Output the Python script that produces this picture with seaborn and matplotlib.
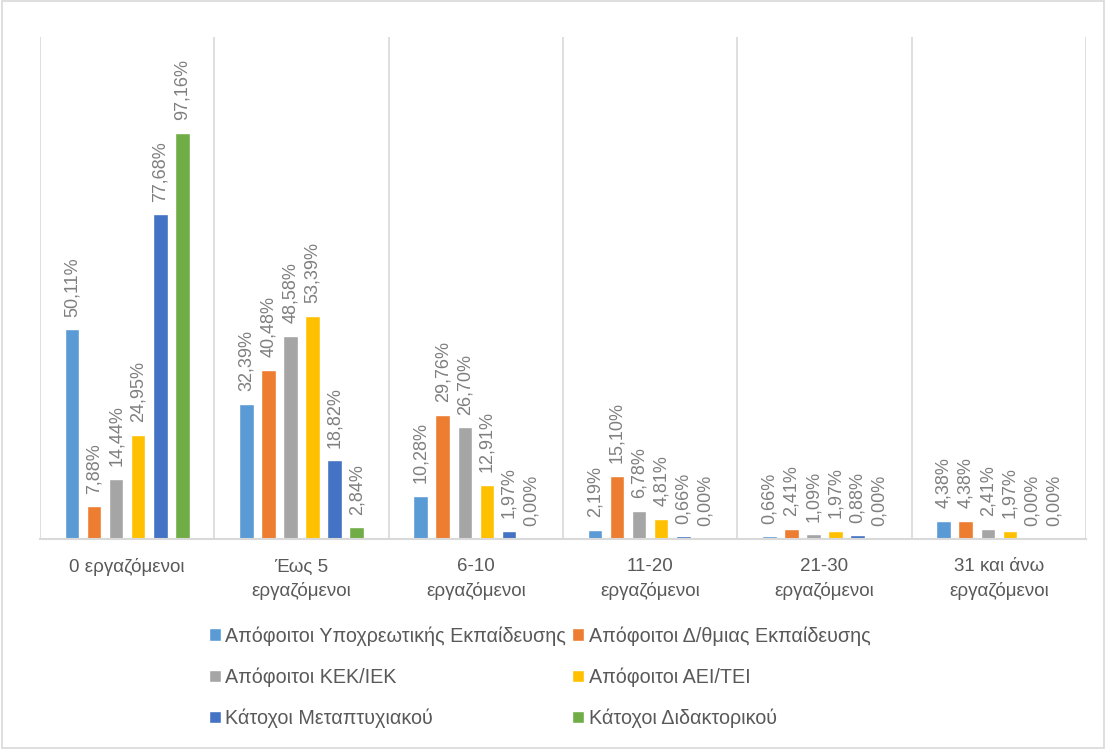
import matplotlib
matplotlib.use("Agg")
import matplotlib.pyplot as plt
import seaborn as sns
import pandas as pd
from matplotlib.patches import Rectangle

categories = ["0 εργαζόμενοι", "Έως 5\nεργαζόμενοι", "6-10\nεργαζόμενοι",
              "11-20\nεργαζόμενοι", "21-30\nεργαζόμενοι", "31 και άνω\nεργαζόμενοι"]
series = ["Απόφοιτοι Υποχρεωτικής Εκπαίδευσης", "Απόφοιτοι Δ/θμιας Εκπαίδευσης",
          "Απόφοιτοι ΚΕΚ/ΙΕΚ", "Απόφοιτοι ΑΕΙ/ΤΕΙ",
          "Κάτοχοι Μεταπτυχιακού", "Κάτοχοι Διδακτορικού"]
ypoxreotiki = [50.11, 32.39, 10.28, 2.19, 0.66, 4.38]
dthmia = [7.88, 40.48, 29.76, 15.10, 2.41, 4.38]
kek_iek = [14.44, 48.58, 26.70, 6.78, 1.09, 2.41]
aei_tei = [24.95, 53.39, 12.91, 4.81, 1.97, 1.97]
metaptyxiako = [77.68, 18.82, 1.97, 0.66, 0.88, 0.00]
didaktoriko = [97.16, 2.84, 0.00, 0.00, 0.00, 0.00]
values = [ypoxreotiki, dthmia, kek_iek, aei_tei, metaptyxiako, didaktoriko]
colors = ["#5B9BD5", "#ED7D31", "#A5A5A5", "#FFC000", "#4472C4", "#70AD47"]

rows = []
for s, vals in zip(series, values):
    for c, v in zip(categories, vals):
        rows.append({"cat": c, "series": s, "value": v})
df = pd.DataFrame(rows)

sns.set_theme(style="white")
plt.rcParams['font.family'] = ['Liberation Sans', 'DejaVu Sans']

fig = plt.figure(figsize=(11.06, 7.49), dpi=100)
ax = fig.add_axes([40/1106, 1 - 539/749, (1086-40)/1106, (539-37)/749])

sns.barplot(data=df, x="cat", y="value", hue="series", order=categories,
            hue_order=series, palette=colors, width=0.76, ax=ax,
            saturation=1, legend=True, errorbar=None)

# slim bars and add labels
for container, vals in zip(ax.containers, values):
    for patch, v in zip(container.patches, vals):
        w = patch.get_width()
        cx = patch.get_x() + w / 2
        nw = w * 0.66
        patch.set_x(cx - nw / 2)
        patch.set_width(nw)
        ax.annotate(f"{v:.2f}%".replace(".", ","), (cx, v), xytext=(0, 9),
                    textcoords="offset points", rotation=90, ha="center",
                    va="bottom", fontsize=13, color="#7f7f7f")

ax.set_ylim(0, 120)
ax.set_xlim(-0.5, 5.5)
ax.set_yticks([])
ax.set_xlabel("")
ax.set_ylabel("")
ax.set_xticks(range(len(categories)))
ax.set_xticklabels(categories, fontsize=13.5, color="#595959", linespacing=1.45)
ax.tick_params(axis="x", length=0, pad=14)
ax.set_xticks([i - 0.5 for i in range(len(categories) + 1)], minor=True)
ax.grid(True, which="minor", axis="x", color="#d9d9d9", linewidth=1.2)
ax.grid(False, which="major")
for side in ["top", "right", "left"]:
    ax.spines[side].set_visible(False)
ax.spines["bottom"].set_color("#d9d9d9")
ax.spines["bottom"].set_linewidth(1.5)

handles, labels = ax.get_legend_handles_labels()
ax.legend_.remove()
order = [0, 2, 4, 1, 3, 5]
leg = fig.legend([handles[i] for i in order], [labels[i] for i in order],
                 loc="center", bbox_to_anchor=(0.488, 1 - 677/749), ncol=2,
                 frameon=False, fontsize=14.2, handlelength=0.6, handleheight=0.6,
                 handletextpad=0.25, columnspacing=0.3, labelspacing=1.1,
                 labelcolor="#595959")

fig.patches.append(Rectangle((0.002, 0.002), 0.996, 0.996, transform=fig.transFigure,
                             fill=False, edgecolor="#d9d9d9", linewidth=1.2))

fig.savefig("out.png", dpi=100, facecolor="white")
